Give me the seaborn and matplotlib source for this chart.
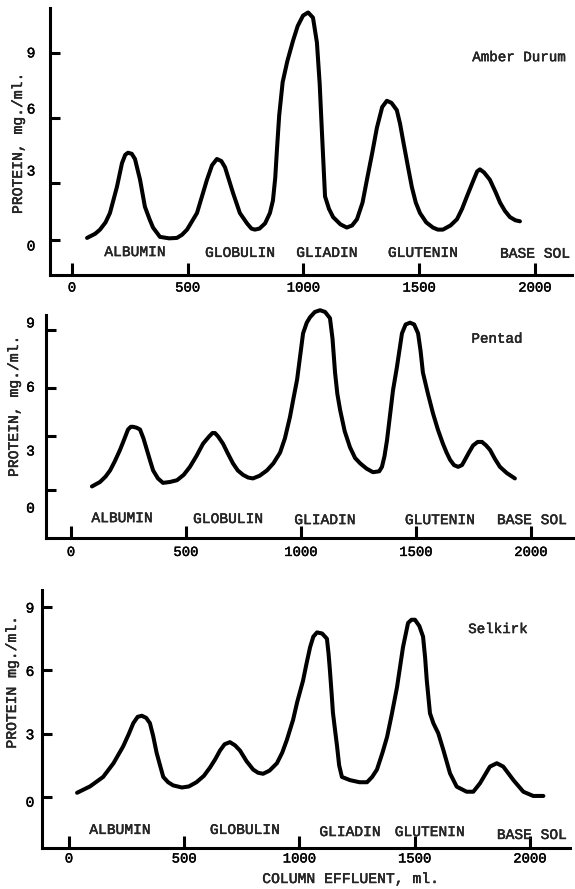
import matplotlib
matplotlib.use("Agg")
import matplotlib.pyplot as plt
import matplotlib.patheffects as pe
import seaborn as sns
import pandas as pd

# ---------------- data ----------------
categories = ["ALBUMIN", "GLOBULIN", "GLIADIN", "GLUTENIN", "BASE SOL"]
varieties = ["Amber Durum", "Pentad", "Selkirk"]
x_ticks = [0, 500, 1000, 1500, 2000]
y_tick_labels = ["0", "3", "6", "9"]

amber_x = [65, 100, 121, 145, 164, 194, 216, 230, 242, 258, 272, 294, 315, 335, 350, 380, 420, 453, 475, 497,
           540, 583, 605, 626, 645, 661, 696, 725, 756, 775, 790, 810, 834, 855, 868, 878, 885, 895, 910, 930,
           955, 975, 998, 1020, 1041, 1058, 1070, 1080, 1093, 1110, 1128, 1160, 1187, 1210, 1231, 1255, 1274,
           1297, 1317, 1340, 1360, 1380, 1403, 1417, 1430, 1450, 1468, 1485, 1503, 1530, 1559, 1580, 1602, 1635,
           1663, 1685, 1706, 1735, 1750, 1762, 1780, 1805, 1830, 1849, 1870, 1892, 1915, 1935]
amber_y = [0.1, 0.3, 0.5, 0.85, 1.3, 2.55, 3.7, 4.1, 4.2, 4.15, 3.9, 2.9, 1.6, 1.0, 0.6, 0.15, 0.08, 0.1, 0.25, 0.5,
           1.3, 2.9, 3.6, 3.9, 3.8, 3.5, 2.25, 1.3, 0.8, 0.55, 0.5, 0.55, 0.8, 1.3, 1.9, 3.0, 4.3, 6.0, 7.6, 8.6,
           9.6, 10.3, 10.8, 10.95, 10.7, 9.5, 7.5, 5.1, 2.1, 1.5, 1.1, 0.75, 0.6, 0.7, 1.0, 1.8, 2.9,
           4.2, 5.4, 6.4, 6.7, 6.6, 6.25, 5.6, 4.8, 3.6, 2.55, 1.8, 1.3, 0.85, 0.6, 0.5, 0.5, 0.7,
           1.0, 1.5, 2.1, 2.9, 3.3, 3.4, 3.25, 2.9, 2.3, 1.8, 1.4, 1.1, 0.95, 0.9]

pentad_x = [91, 126, 150, 170, 190, 213, 230, 248, 260, 270, 285, 300, 315, 330, 345, 357, 378, 400, 430, 461,
            490, 517, 545, 574, 600, 615, 626, 640, 661, 680, 704, 725, 748, 770, 791, 820, 852, 880, 909, 930,
            952, 968, 983, 996, 1009, 1025, 1039, 1060, 1083, 1105, 1126, 1137, 1148, 1158, 1170, 1190, 1213,
            1235, 1257, 1285, 1313, 1340, 1352, 1363, 1374, 1387, 1400, 1417, 1439, 1455, 1474, 1492, 1509,
            1520, 1530, 1552, 1574, 1595, 1617, 1633, 1648, 1665, 1683, 1700, 1713, 1730, 1748, 1768, 1787,
            1805, 1822, 1843, 1865, 1895, 1930]
pentad_y = [0.2, 0.45, 0.75, 1.1, 1.6, 2.25, 2.8, 3.4, 3.55, 3.55, 3.5, 3.4, 2.9, 2.25, 1.6, 1.1, 0.65, 0.4, 0.45, 0.55,
            0.85, 1.3, 1.9, 2.6, 3.0, 3.2, 3.2, 3.0, 2.6, 2.1, 1.5, 1.1, 0.85, 0.7, 0.65, 0.8, 1.1, 1.5, 2.1, 2.9,
            4.1, 5.2, 6.2, 7.5, 8.8, 9.4, 9.7, 10.0, 10.1, 10.0, 9.65, 8.5, 6.6, 5.4, 4.5, 3.3, 2.4,
            1.8, 1.5, 1.2, 1.0, 1.05, 1.3, 1.9, 2.8, 4.2, 5.6, 6.9, 8.8, 9.3, 9.4, 9.3, 8.8,
            7.8, 6.6, 5.4, 4.3, 3.4, 2.6, 2.1, 1.7, 1.4, 1.3, 1.4, 1.7, 2.1, 2.5, 2.7, 2.7,
            2.5, 2.25, 1.75, 1.3, 0.95, 0.65]

selkirk_x = [35, 91, 148, 193, 235, 260, 279, 298, 316, 335, 351, 365, 380, 395, 409, 430, 452, 490, 520, 553,
             585, 612, 635, 655, 675, 698, 720, 742, 770, 799, 820, 842, 870, 902, 925, 945, 972, 990, 1015,
             1030, 1046, 1060, 1076, 1098, 1119, 1126, 1132, 1140, 1145, 1155, 1163, 1172, 1184, 1219, 1260,
             1293, 1315, 1336, 1360, 1380, 1400, 1423, 1449, 1471, 1486, 1501, 1520, 1536, 1545, 1552, 1566,
             1581, 1602, 1624, 1653, 1682, 1725, 1754, 1783, 1826, 1856, 1884, 1928, 1971, 2014, 2058]
selkirk_y = [0.2, 0.5, 0.95, 1.6, 2.4, 3.0, 3.5, 3.8, 3.85, 3.75, 3.5, 2.9, 2.1, 1.5, 0.95, 0.7, 0.55, 0.45, 0.5, 0.7,
             1.0, 1.4, 1.8, 2.2, 2.5, 2.6, 2.45, 2.2, 1.7, 1.3, 1.15, 1.1, 1.25, 1.6, 2.1, 2.7, 3.65, 4.5, 5.5,
             6.3, 7.1, 7.6, 7.8, 7.75, 7.5, 6.8, 6.0, 4.8, 4.0, 3.1, 2.4, 1.5, 0.95, 0.8, 0.7,
             0.7, 0.95, 1.3, 2.1, 2.85, 3.9, 5.2, 7.1, 8.25, 8.4, 8.4, 8.1, 7.6, 6.6, 5.55, 3.97,
             3.49, 3.02, 2.23, 1.12, 0.49, 0.25, 0.25, 0.65, 1.44, 1.6, 1.44, 0.8, 0.25, 0.05, 0.05]

series_x = [amber_x, pentad_x, selkirk_x]
series_y = [amber_y, pentad_y, selkirk_y]

# ---------------- layout ----------------
MONO = ["Liberation Mono", "DejaVu Sans Mono"]
sns.set_style("white")
plt.rcParams["font.family"] = MONO
INK = [pe.withStroke(linewidth=0.3, foreground="black")]

W, H = 575, 889
fig = plt.figure(figsize=(W / 100, H / 100), dpi=100)

panels = [
    dict(rect=[50, 8, 572, 275], xlim=(-95.0, 2159.8), ylim=(-1.684, 11.165),
         yticks=[0, 2.74, 5.87, 9.0], ylabpos=[-0.24, 3.37, 6.35, 9.05], ypad=10.5,
         cat_pos=[(272, -0.58), (726, -0.62), (1101, -0.62), (1516, -0.62), (2000, -0.66)],
         name_pos=(1931, 8.8), ylab="PROTEIN, mg./ml.", ylab_xy=(18, 143), xpad=4),
    dict(rect=[46, 315, 575, 538], xlim=(-108.7, 2191.3), ylim=(-2.697, 9.831),
         yticks=[0, 3.03, 5.73, 9.0], ylabpos=[-0.96, 2.25, 5.84, 9.44], ypad=8,
         cat_pos=[(222, -1.58), (683, -1.63), (1104, -1.69), (1604, -1.69), (2004, -1.69)],
         name_pos=(1852, 8.5), ylab="PROTEIN, mg./ml.", ylab_xy=(14, 406), xpad=5),
    dict(rect=[42, 590, 570, 848], xlim=(-117.1, 2173.5), ylim=(-2.417, 9.81),
         yticks=[0, 3.0, 6.0, 9.0], ylabpos=[-0.2, 3.0, 6.0, 9.0], ypad=5.5,
         cat_pos=[(221, -1.56), (763, -1.56), (1219, -1.66), (1565, -1.66), (2008, -1.8)],
         name_pos=(1861, 7.96), ylab="PROTEIN mg./ml.", ylab_xy=(12, 682), xpad=2.5),
]

for i, p in enumerate(panels):
    l, t, r, b = p["rect"]
    ax = fig.add_axes([l / W, 1 - b / H, (r - l) / W, (b - t) / H])
    ax.yaxis.remove_overlapping_locs = False
    df = pd.DataFrame({"effluent": series_x[i], "protein": series_y[i]})
    sns.lineplot(data=df, x="effluent", y="protein", ax=ax, color="black", linewidth=2.9,
                 sort=False, estimator=None, clip_on=False, solid_joinstyle="round",
                 solid_capstyle="round")
    ax.set_xlim(*p["xlim"])
    ax.set_ylim(*p["ylim"])
    ax.set_xlabel("")
    ax.set_ylabel("")
    for s in ["top", "right"]:
        ax.spines[s].set_visible(False)
    for s in ["left", "bottom"]:
        ax.spines[s].set_linewidth(2.2)
        ax.spines[s].set_color("black")
    ax.set_xticks(x_ticks)
    ax.set_xticklabels([str(v) for v in x_ticks])
    ax.tick_params(axis="x", which="major", bottom=True, direction="in", length=8.5, width=2.2,
                   pad=p["xpad"], labelsize=10, colors="black")
    ax.set_yticks(p["yticks"])
    ax.set_yticklabels([])
    ax.tick_params(axis="y", which="major", left=True, direction="in", length=7.2, width=2.2,
                   colors="black")
    ax.set_yticks(p["ylabpos"], minor=True)
    ax.set_yticklabels(y_tick_labels, minor=True)
    ax.tick_params(axis="y", which="minor", left=True, labelleft=True, length=0,
                   pad=p["ypad"], labelsize=10.5, colors="black")
    for lab in ax.get_xticklabels() + ax.get_yticklabels(minor=True):
        lab.set_family(MONO)
        lab.set_path_effects(INK)
    for cat, (cx, cy) in zip(categories, p["cat_pos"]):
        ax.text(cx, cy, cat, ha="center", va="center", fontsize=10.5, family=MONO,
                path_effects=INK)
    ax.text(p["name_pos"][0], p["name_pos"][1], varieties[i], ha="center", va="center",
            fontsize=10.2, family=MONO, path_effects=INK)
    fig.text(p["ylab_xy"][0] / W, 1 - p["ylab_xy"][1] / H, p["ylab"], rotation=90,
             ha="center", va="center", fontsize=10.6, family=MONO, path_effects=INK)

fig.text(351 / W, 1 - 879 / H, "COLUMN EFFLUENT, ml.", ha="center", va="center",
         fontsize=10.6, family=MONO, path_effects=INK)

fig.savefig("out.png", dpi=100, facecolor="white")
